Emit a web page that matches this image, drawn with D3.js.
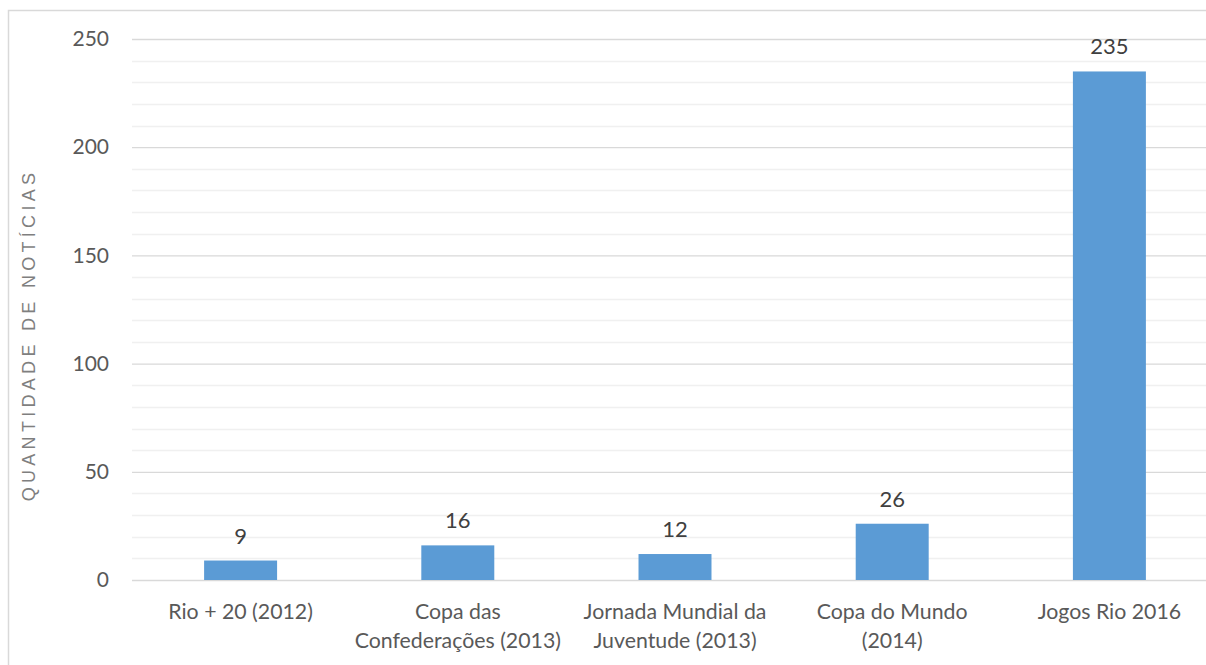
<html lang="pt">
  <head>
    <meta charset="UTF-8" />
    <title>Quantidade de notícias por evento</title>
    <script src="https://d3js.org/d3.v7.min.js"></script>
  </head>
  <style>
    body { margin: 0; background: #fff; }
    svg { display: block; }
  </style>
  <body>
    <svg></svg>
    <script>
      var width = 1206;
      var height = 665;

      // data
      var categories = [
        "Rio + 20 (2012)",
        "Copa das Confederações (2013)",
        "Jornada Mundial da Juventude (2013)",
        "Copa do Mundo (2014)",
        "Jogos Rio 2016",
      ];
      var labelLines = [
        ["Rio + 20 (2012)"],
        ["Copa das", "Confederações (2013)"],
        ["Jornada Mundial da", "Juventude (2013)"],
        ["Copa do Mundo", "(2014)"],
        ["Jogos Rio 2016"],
      ];
      var values = [9, 16, 12, 26, 235];
      var yTicks = [0, 50, 100, 150, 200, 250];
      var yMinor = d3.range(0, 251, 10);

      var margin = { top: 39, left: 132, bottom: 85 };
      var plotRight = 1218; // chart is cropped on the right
      var font = "Lato, 'Open Sans', sans-serif";

      var svg = d3.select("svg").attr("width", width).attr("height", height);

      // outer chart border (only left and top visible in crop)
      svg
        .append("path")
        .attr("d", `M8.5,${height} V10.5 H${width}`)
        .style("fill", "none")
        .style("stroke", "#d9d9d9")
        .style("stroke-width", 1.5);

      var x = d3
        .scaleBand()
        .domain(categories)
        .range([margin.left, plotRight])
        .paddingInner(0.664)
        .paddingOuter(0.332);

      var y = d3
        .scaleLinear()
        .domain([0, 250])
        .range([height - margin.bottom, margin.top]);

      // minor gridlines
      svg
        .append("g")
        .selectAll("line")
        .data(yMinor.filter((d) => d % 50 != 0))
        .join("line")
        .attr("x1", margin.left)
        .attr("x2", plotRight)
        .attr("y1", (d) => Math.round(y(d)) + 0.5)
        .attr("y2", (d) => Math.round(y(d)) + 0.5)
        .style("stroke", "#f0f0f0")
        .style("stroke-width", 1.3);

      // major gridlines + labels via axis
      var yAxis = d3
        .axisLeft(y)
        .tickValues(yTicks)
        .tickSize(-(plotRight - margin.left))
        .tickPadding(23);

      var gy = svg
        .append("g")
        .attr("transform", `translate(${margin.left},0)`)
        .call(yAxis);
      gy.select(".domain").remove();
      gy.selectAll(".tick line").style("stroke", "#d9d9d9").style("stroke-width", 1.3);
      gy.selectAll(".tick text")
        .style("font-family", font)
        .style("font-size", "21px")
        .style("fill", "#595959");

      // bars
      svg
        .append("g")
        .selectAll("rect")
        .data(values)
        .join("rect")
        .attr("x", (d, i) => x(categories[i]))
        .attr("y", (d) => y(d))
        .attr("width", x.bandwidth())
        .attr("height", (d) => y(0) - y(d))
        .style("fill", "#5b9bd5");

      // value labels
      svg
        .append("g")
        .selectAll("text")
        .data(values)
        .join("text")
        .attr("x", (d, i) => x(categories[i]) + x.bandwidth() / 2)
        .attr("y", (d) => y(d) - 17)
        .attr("text-anchor", "middle")
        .style("font-family", font)
        .style("font-size", "22px")
        .style("fill", "#404040")
        .text((d) => d);

      // category labels
      var gx = svg
        .append("g")
        .selectAll("text")
        .data(labelLines)
        .join("text")
        .attr("x", (d, i) => x(categories[i]) + x.bandwidth() / 2)
        .attr("y", 619)
        .attr("text-anchor", "middle")
        .style("font-family", font)
        .style("font-size", "21.3px")
        .style("fill", "#595959");
      gx.selectAll("tspan")
        .data((d, i) => d.map((t) => ({ t: t, i: i })))
        .join("tspan")
        .attr("x", (d) => x(categories[d.i]) + x.bandwidth() / 2)
        .attr("dy", (d, j) => (j == 0 ? 0 : 29))
        .text((d) => d.t);

      // y axis title
      svg
        .append("text")
        .attr("transform", "translate(35,335) rotate(-90)")
        .attr("text-anchor", "middle")
        .style("font-family", "'Liberation Sans', Arial, sans-serif")
        .style("font-size", "18px")
        .style("letter-spacing", "4.3px")
        .style("fill", "#7f7f7f")
        .text("QUANTIDADE DE NOTÍCIAS");
    </script>
  </body>
</html>
